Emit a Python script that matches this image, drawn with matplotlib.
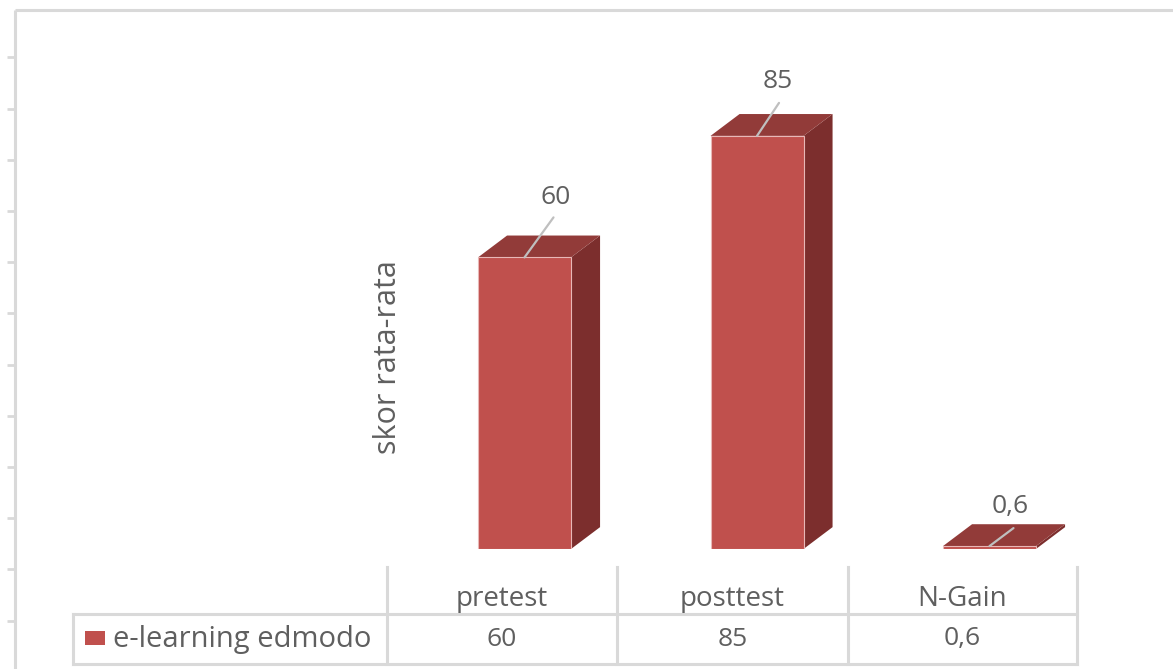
import numpy as np
import matplotlib

matplotlib.use("Agg")
import matplotlib.pyplot as plt
from matplotlib.patches import Polygon, Rectangle


# ----------------------------------------------------------------------
# Daten
# ----------------------------------------------------------------------

categories = ["pretest", "posttest", "N-Gain"]
values = [60, 85, 0.6]
value_labels = ["60", "85", "0,6"]
series_name = "e-learning edmodo"
y_label = "skor rata-rata"

# ----------------------------------------------------------------------
# Stil
# ----------------------------------------------------------------------

W, H = 1173, 669
C_FRONT = "#C0504D"
C_TOP = "#923B39"
C_SIDE = "#7C2E2D"
C_EDGE = "#E8B8B7"
C_GRID = "#D9D9D9"
C_TEXT = "#5F5F5F"
C_LEADER = "#BFBFBF"
FONT = "Open Sans"
FS = 20

BAR_W = 0.4          # Breite der Saeulen (Kategorie-Einheiten)
DEPTH_X = 0.125      # 3D-Tiefe horizontal (Kategorie-Einheiten)
DEPTH_Y = 4.5        # 3D-Tiefe vertikal (Werte-Einheiten)

# Beschriftungs-Versatz (Pixel) relativ zur Vorderkante oben
LABEL_OFFSETS = [(31, 60), (21, 54), (21, 40)]
LEADER_OFFSETS = [(29, 40), (22, 33), (24, 18)]

fig = plt.figure(figsize=(W / 100, H / 100), dpi=100)

# Overlay in Pixelkoordinaten fuer Rahmen und Datentabelle
ax = fig.add_axes([0, 0, 1, 1])
ax.set_xlim(0, W)
ax.set_ylim(H, 0)
ax.axis("off")

# Diagrammachsen: y=0 bei Pixel 549, 4.86 px pro Einheit
base_px = 549
px_per_unit = 4.86
x0_px, x1_px = 408.25, 1105.75
bx = fig.add_axes([x0_px / W, (H - base_px) / H,
                   (x1_px - x0_px) / W, 100 * px_per_unit / H])
bx.set_xlim(-0.5, 2.5)
bx.set_ylim(0, 100)
bx.axis("off")
bx.patch.set_alpha(0)

# Rahmen oben/links mit Teilstrichen
ax.plot([15, W], [10, 10], color=C_GRID, lw=2.2, solid_capstyle="butt")
ax.plot([15, 15], [10, H], color=C_GRID, lw=2.2, solid_capstyle="butt")
for ty in 57.4 + 51.2 * np.arange(12):
    ax.plot([7, 15], [ty, ty], color=C_GRID, lw=2.0, solid_capstyle="butt")

# 3D-Saeulen
for i, v in enumerate(values):
    xl, xr = i - BAR_W / 2, i + BAR_W / 2
    side = [(xr, 0), (xr + DEPTH_X, DEPTH_Y), (xr + DEPTH_X, v + DEPTH_Y), (xr, v)]
    top = [(xl, v), (xr, v), (xr + DEPTH_X, v + DEPTH_Y), (xl + DEPTH_X, v + DEPTH_Y)]
    bx.add_patch(Polygon(side, closed=True, facecolor=C_SIDE, edgecolor="none"))
    bx.add_patch(Polygon(top, closed=True, facecolor=C_TOP, edgecolor="none"))
    bx.add_patch(Rectangle((xl, 0), BAR_W, v, facecolor=C_FRONT,
                           edgecolor=C_EDGE, linewidth=0.8))

    # Datenbeschriftung mit Fuehrungslinie
    lx, ly = LEADER_OFFSETS[i]
    bx.annotate("", xy=(i, v), xytext=(lx, ly), textcoords="offset pixels",
                arrowprops=dict(arrowstyle="-", color=C_LEADER, lw=1.6,
                                shrinkA=0, shrinkB=0))
    tx, ty = LABEL_OFFSETS[i]
    bx.annotate(value_labels[i], xy=(i, v), xytext=(tx, ty),
                textcoords="offset pixels", ha="center", va="center",
                fontsize=FS - 1, color=C_TEXT, family=FONT)

# Achsentitel
ax.text(388, 357, y_label, rotation=90, ha="center", va="center",
        fontsize=FS + 2, color=C_TEXT, family=FONT)

# Datentabelle
col_edges = [387, 617, 848, 1077]
row_top, row_mid, row_bot = 567, 614, 664
legend_left = 73
for xe in col_edges:
    ax.plot([xe, xe], [row_top, row_bot], color=C_GRID, lw=2.2)
ax.plot([legend_left, col_edges[-1]], [row_mid, row_mid], color=C_GRID, lw=2.2)
ax.plot([legend_left, col_edges[-1]], [row_bot, row_bot], color=C_GRID, lw=2.2)
ax.plot([legend_left, legend_left], [row_mid, row_bot], color=C_GRID, lw=2.2)

for i, cat in enumerate(categories):
    cx = (col_edges[i] + col_edges[i + 1]) / 2
    ax.text(cx, 599, cat, ha="center", va="center", fontsize=FS,
            color=C_TEXT, family=FONT)
    ax.text(cx, 639, value_labels[i], ha="center", va="center", fontsize=FS - 1,
            color=C_TEXT, family=FONT)

ax.add_patch(Rectangle((85, 631), 20, 14, facecolor=C_FRONT, edgecolor="none"))
ax.text(113, 639, series_name, ha="left", va="center", fontsize=FS + 1,
        color=C_TEXT, family=FONT)

fig.savefig("out.png", dpi=100)
plt.close(fig)
